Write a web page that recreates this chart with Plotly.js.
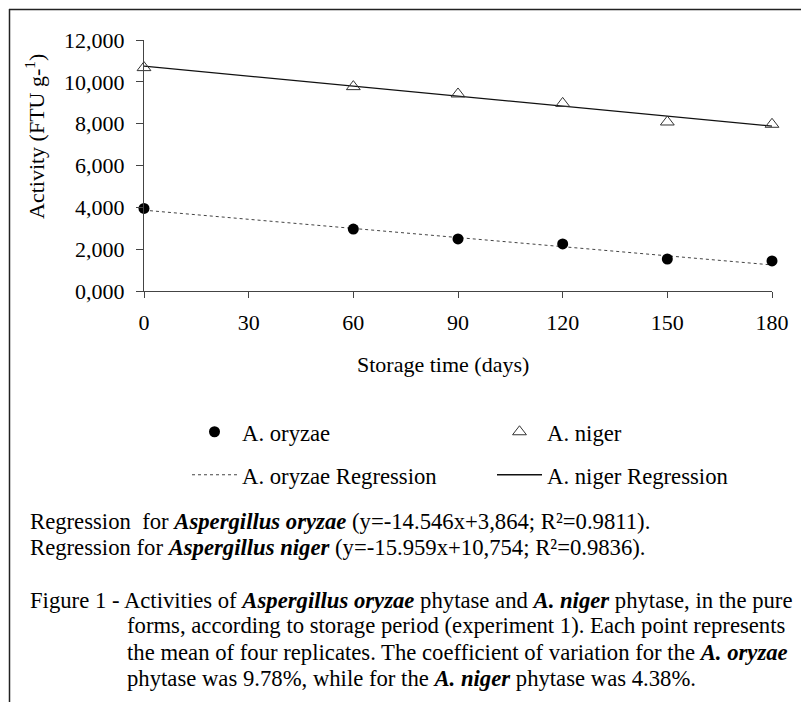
<!DOCTYPE html>
<html>
<head>
<meta charset="utf-8">
<script src="https://cdn.plot.ly/plotly-3.0.1.min.js"></script>
<style>html,body{margin:0;padding:0;background:#fff;}#chart{width:801px;height:702px;}</style>
</head>
<body>
<div id="chart"></div>
<script>
// ---- data ----
const days = [0, 60, 90, 120, 150, 180];
const oryzaeActivity = [3950, 2960, 2490, 2250, 1530, 1440];
const nigerActivity = [10680, 9770, 9420, 8970, 8080, 7970];
const regDays = [0, 180];
const oryzaeRegression = [3864, 1246];   // y = -14.546x + 3,864
const nigerRegression = [10754, 7881];   // y = -15.959x + 10,754
const xTickVals = [0, 30, 60, 90, 120, 150, 180];
const yTickVals = [0, 2000, 4000, 6000, 8000, 10000, 12000];
const yTickText = ["0,000", "2,000", "4,000", "6,000", "8,000", "10,000", "12,000"];
const seriesNames = ["A. oryzae", "A. niger", "A. oryzae Regression", "A. niger Regression"];
const captionLines = [
  "Regression\u00a0 for <b><i>Aspergillus oryzae</i></b> (y=-14.546x+3,864; R\u00b2=0.9811).",
  "Regression for <b><i>Aspergillus niger</i></b> (y=-15.959x+10,754; R\u00b2=0.9836).",
  "Figure 1 - Activities of <b><i>Aspergillus oryzae</i></b> phytase and <b><i>A. niger</i></b> phytase, in the pure",
  "forms, according to storage period (experiment 1). Each point represents",
  "the mean of four replicates. The coefficient of variation for the <b><i>A. oryzae</i></b>",
  "phytase was 9.78%, while for the <b><i>A. niger</i></b> phytase was 4.38%."
];

// ---- layout geometry (pixels) ----
const W = 801, H = 702;
const M = {l: 144, r: 29, t: 40, b: 411};
const PW = W - M.l - M.r, PH = H - M.t - M.b;
const px = x => (x - M.l) / PW;
const py = y => (M.t + PH - y) / PH;
const FONT = "Liberation Serif, Times New Roman, serif";

const traces = [
  {x: days, y: oryzaeActivity, name: seriesNames[0], type: "scatter", mode: "markers",
   marker: {symbol: "circle", size: 11, color: "#000"}, cliponaxis: false, legend: "legend"},
  {x: days, y: nigerActivity, name: seriesNames[1], type: "scatter", mode: "markers",
   marker: {symbol: "triangle-up-open", size: 12, color: "#333", line: {width: 1}}, cliponaxis: false, legend: "legend"},
  {x: regDays, y: oryzaeRegression, name: seriesNames[2], type: "scatter", mode: "lines",
   line: {color: "#444", width: 1, dash: "dot"}, legend: "legend2"},
  {x: regDays, y: nigerRegression, name: seriesNames[3], type: "scatter", mode: "lines",
   line: {color: "#111", width: 1.3}, legend: "legend2"}
];
const ordered = [traces[2], traces[3], traces[0], traces[1]];

const capY = [521, 547, 600, 626, 652, 678];
const capX = [30, 30, 30, 127, 127, 127];
const annotations = captionLines.map((t, i) => ({
  text: t, xref: "paper", yref: "paper", x: px(capX[i] - 1), y: py(capY[i]),
  xanchor: "left", yanchor: "middle", showarrow: false, borderpad: 0,
  font: {family: FONT, size: 22.7, color: "#000"}
}));
annotations.push({
  text: "Storage time (days)", xref: "paper", yref: "paper", x: px(443), y: py(364),
  xanchor: "center", yanchor: "middle", showarrow: false,
  font: {family: FONT, size: 22, color: "#000"}
});
annotations.push({
  text: "Activity (FTU g-<sup>1</sup>)", xref: "paper", yref: "paper", x: px(35), y: py(137),
  xanchor: "center", yanchor: "middle", textangle: -90, showarrow: false,
  font: {family: FONT, size: 22, color: "#000"}
});

const legendCommon = {
  orientation: "h", xref: "container", yref: "container", xanchor: "left", yanchor: "middle",
  entrywidth: 245, itemwidth: 45, font: {family: FONT, size: 22.7, color: "#000"}, bgcolor: "rgba(0,0,0,0)",
  borderwidth: 0, traceorder: "normal"
};

const layout = {
  width: W, height: H, margin: M, paper_bgcolor: "#fff", plot_bgcolor: "#fff",
  showlegend: true,
  font: {family: FONT, size: 22, color: "#000"},
  xaxis: {range: [0, 180], tickvals: xTickVals, ticks: "outside", ticklen: 6, tickcolor: "#444",
          showgrid: false, zeroline: false, showline: true, linecolor: "#444", linewidth: 1,
          ticklabelstandoff: 6, tickfont: {family: FONT, size: 22, color: "#000"}, fixedrange: true},
  yaxis: {range: [0, 12000], tickvals: yTickVals, ticktext: yTickText, ticks: "outside", ticklen: 7,
          tickcolor: "#444", showgrid: false, zeroline: false, showline: true, linecolor: "#444",
          linewidth: 1, ticklabelstandoff: 7, tickfont: {family: FONT, size: 22, color: "#000"}, fixedrange: true},
  legend: Object.assign({}, legendCommon, {x: 187 / W, y: 1 - 432 / H}),
  legend2: Object.assign({}, legendCommon, {x: 187 / W, y: 1 - 475 / H}),
  annotations: annotations,
  shapes: [
    {type: "line", xref: "paper", yref: "paper", x0: px(9), x1: px(801), y0: py(9.5), y1: py(9.5),
     line: {color: "#222", width: 1.5}},
    {type: "line", xref: "paper", yref: "paper", x0: px(9.5), x1: px(9.5), y0: py(9), y1: py(702),
     line: {color: "#222", width: 1.5}}
  ]
};

Plotly.newPlot("chart", ordered, layout, {displayModeBar: false, staticPlot: true});
</script>
</body>
</html>
